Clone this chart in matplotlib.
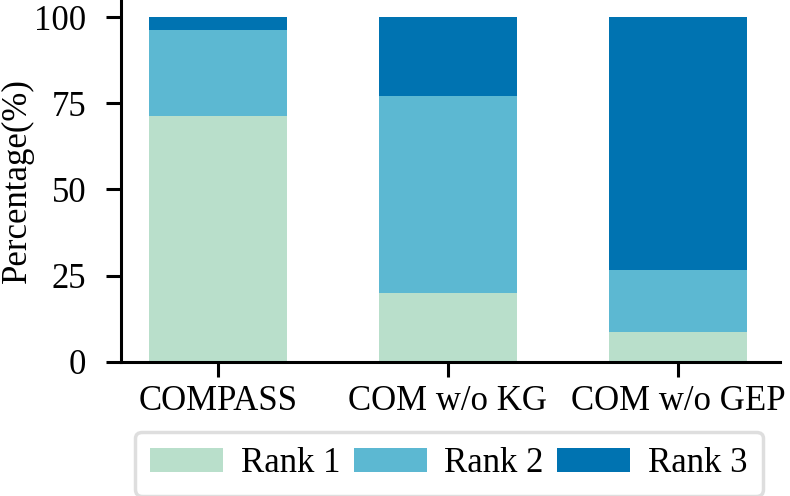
import matplotlib
matplotlib.use("Agg")
import matplotlib.pyplot as plt
import numpy as np

categories = ["COMPASS", "COM w/o KG", "COM w/o GEP"]
rank1 = [71.3, 19.8, 8.5]
rank2 = [24.9, 57.4, 18.0]
rank3 = [3.8, 22.8, 73.5]
series_names = ["Rank 1", "Rank 2", "Rank 3"]
colors = ["#b9dfcb", "#5cb8d2", "#0073b1"]
yticks = [0, 25, 50, 75, 100]

plt.rcParams['font.family'] = ['Liberation Serif', 'DejaVu Serif']
FS = 25

fig = plt.figure(figsize=(7.9, 4.96), dpi=100)
ax = fig.add_axes([0.153, 0.2708, 0.987 - 0.153, 1 - 0.2708])

x = np.arange(len(categories))
bottom = np.zeros(len(categories))
for vals, name, c in zip([rank1, rank2, rank3], series_names, colors):
    ax.bar(x, vals, width=0.6, bottom=bottom, color=c, label=name, linewidth=0)
    bottom += np.array(vals)

ax.set_xlim(-0.42, 2.44)
ax.set_ylim(0, 105)
ax.set_xticks(x)
ax.set_xticklabels(categories, fontsize=FS)
ax.set_yticks(yticks)
ax.set_yticklabels([str(v) for v in yticks], fontsize=FS)
ax.set_ylabel("Percentage(%)", fontsize=FS, labelpad=0)
ax.yaxis.set_label_coords(-0.132, 0.5)
for s in ["top", "right"]:
    ax.spines[s].set_visible(False)
for s in ["left", "bottom"]:
    ax.spines[s].set_linewidth(2.2)
ax.tick_params(axis='both', length=11, width=2.2, direction='out')
ax.tick_params(axis='y', pad=14)
ax.tick_params(axis='x', pad=6)

leg = fig.legend(loc='upper center', bbox_to_anchor=(0.568, 0.13), ncol=3,
                 fontsize=FS, handlelength=2.1, handleheight=0.72,
                 handletextpad=0.5, columnspacing=0.4, borderpad=0.45,
                 frameon=True, fancybox=True, borderaxespad=0)
leg.get_frame().set_edgecolor("#d6d6d6")
leg.get_frame().set_linewidth(2.5)

fig.savefig("out.png", dpi=100)
